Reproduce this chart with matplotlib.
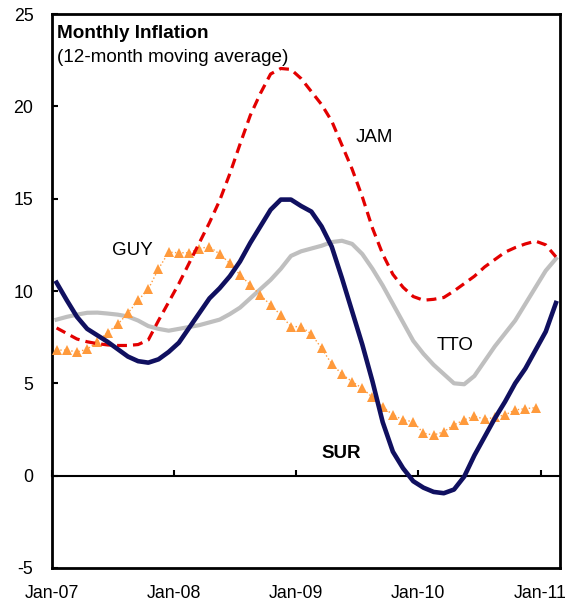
import numpy as np
import matplotlib
matplotlib.use("Agg")
import matplotlib.pyplot as plt

plt.rcParams['font.family'] = ['Liberation Sans', 'DejaVu Sans']
plt.rcParams['axes.unicode_minus'] = False

# Monthly observations, Jan-07 .. Feb-11 (index 0 = Jan-07)
sur = [10.45, 9.5, 8.6, 7.95, 7.6, 7.25, 6.85, 6.45, 6.2, 6.12,
       6.3, 6.7, 7.2, 8.0, 8.8, 9.6, 10.15, 10.8, 11.6, 12.6,
       13.5, 14.4, 14.95, 14.95, 14.6, 14.3, 13.5, 12.4, 10.7, 8.9,
       7.1, 5.1, 2.9, 1.3, 0.4, -0.3, -0.65, -0.88, -0.95, -0.75,
       -0.05, 1.1, 2.1, 3.1, 4.0, 5.0, 5.8, 6.8, 7.8, 9.35]
jam = [8.0, 7.7, 7.4, 7.25, 7.15, 7.08, 7.05, 7.05, 7.1, 7.35,
       8.4, 9.4, 10.4, 11.5, 12.6, 13.7, 14.9, 16.35, 17.95, 19.5,
       20.7, 21.75, 22.05, 22.0, 21.5, 20.8, 20.1, 19.2, 17.9, 16.6,
       15.1, 13.4, 12.0, 10.9, 10.2, 9.7, 9.5, 9.55, 9.65, 10.0,
       10.4, 10.8, 11.3, 11.7, 12.1, 12.35, 12.55, 12.7, 12.5, 11.85]
tto = [8.45, 8.6, 8.72, 8.82, 8.83, 8.78, 8.72, 8.62, 8.4, 8.1,
       7.95, 7.85, 7.95, 8.05, 8.15, 8.3, 8.45, 8.75, 9.1, 9.6,
       10.1, 10.6, 11.2, 11.9, 12.15, 12.3, 12.45, 12.65, 12.72, 12.55,
       12.0, 11.2, 10.3, 9.3, 8.3, 7.3, 6.6, 6.0, 5.5, 5.0,
       4.95, 5.4, 6.2, 7.0, 7.7, 8.4, 9.3, 10.2, 11.1, 11.75]
guy = [6.8, 6.8, 6.7, 6.85, 7.25, 7.75, 8.2, 8.8, 9.5, 10.1,
       11.2, 12.1, 12.07, 12.07, 12.3, 12.4, 12.0, 11.5, 10.87, 10.33,
       9.78, 9.24, 8.7, 8.07, 8.07, 7.67, 6.9, 6.05, 5.5, 5.09,
       4.73, 4.24, 3.73, 3.29, 3.02, 2.92, 2.3, 2.2, 2.38, 2.75,
       3.02, 3.23, 3.05, 3.16, 3.29, 3.56, 3.63, 3.68]

tick_months = [0, 12, 24, 36, 48]
tick_labels = ['Jan-07', 'Jan-08', 'Jan-09', 'Jan-10', 'Jan-11']
y_ticks = [-5, 0, 5, 10, 15, 20, 25]

fig = plt.figure(figsize=(5.81, 6.01), dpi=100)
ax = fig.add_axes([51.5 / 581, 1 - 568 / 601, (560 - 51.5) / 581, (568 - 14) / 601])

x_sur = np.arange(len(sur)) + 0.5
x_jam = np.arange(len(jam)) + 0.5
x_tto = np.arange(len(tto)) + 0.5
x_guy = np.arange(len(guy)) + 0.5

ax.plot(x_tto, tto, color='#BFBFBF', lw=3.0, solid_joinstyle='round', zorder=2)
ax.plot(x_guy, guy, color='#FF9A3C', lw=1.0, ls=':', marker='^', ms=7.5,
        markeredgewidth=0, zorder=3)
ax.plot(x_jam, jam, color='#E30000', lw=2.3, dashes=(3.1, 1.9), zorder=4)
ax.plot(x_sur, sur, color='#101060', lw=3.3, solid_joinstyle='round', zorder=5)

ax.set_xlim(0, 49.9)
ax.set_ylim(-5, 25)
ax.set_yticks(y_ticks)
ax.set_xticks(tick_months)
ax.set_xticklabels(tick_labels)
ax.tick_params(axis='x', length=0, pad=12, labelsize=12.8)
ax.tick_params(axis='y', direction='in', length=4, width=1.5, pad=13, labelsize=12.8)

for s in ax.spines.values():
    s.set_linewidth(2.0)
    s.set_color('black')

# zero axis line with upward ticks
sec = ax.secondary_xaxis(5 / 30)
sec.set_xticks(tick_months)
sec.tick_params(axis='x', direction='in', length=4.5, width=1.5, labelbottom=False,
                labeltop=False)
sec.spines['bottom'].set_linewidth(1.5)

ax.text(0.55, 23.95, 'Monthly Inflation', fontsize=13.6, fontweight='bold',
        ha='left', va='center')
ax.text(0.55, 22.67, '(12-month moving average)', fontsize=13.6,
        ha='left', va='center')

ax.text(31.7, 18.3, 'JAM', fontsize=13.5, ha='center', va='center')
ax.text(7.9, 12.2, 'GUY', fontsize=13.5, ha='center', va='center')
ax.text(39.6, 7.07, 'TTO', fontsize=13.5, ha='center', va='center')
ax.text(28.4, 1.2, 'SUR', fontsize=13.5, fontweight='bold', ha='center', va='center')

fig.savefig('out.png', dpi=100)
